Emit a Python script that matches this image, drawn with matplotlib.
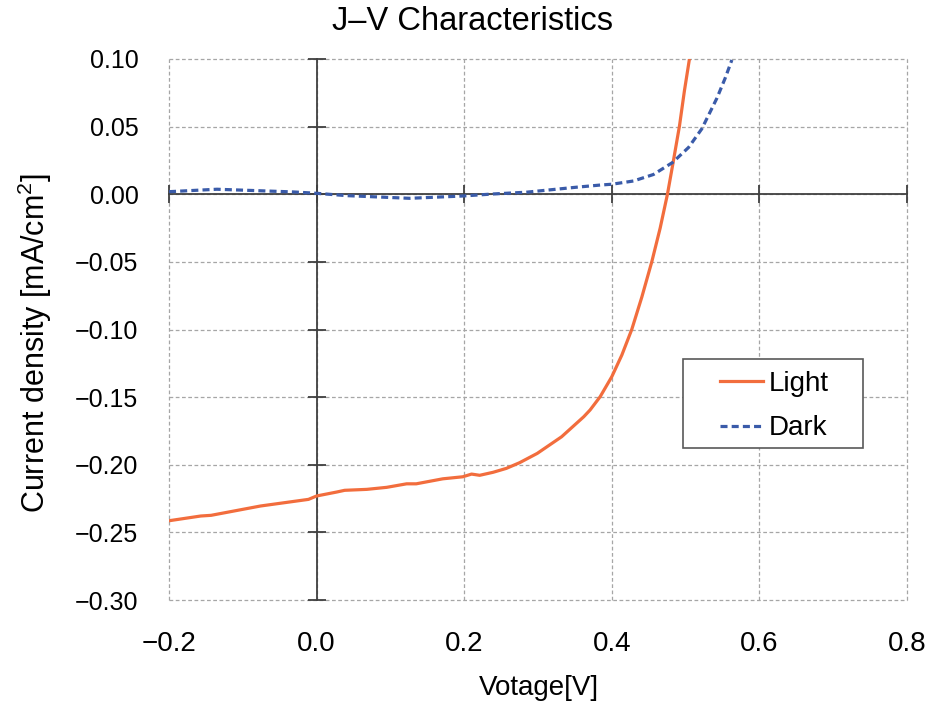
import matplotlib
matplotlib.use('Agg')
import matplotlib.pyplot as plt
from matplotlib.patches import Rectangle

plt.rcParams['font.family'] = ['Liberation Sans', 'DejaVu Sans']
plt.rcParams['mathtext.fontset'] = 'custom'
plt.rcParams['mathtext.rm'] = 'Liberation Sans'

# Light J-V curve (V, mA/cm2)
light_v = [-0.2, -0.157, -0.143, -0.076, -0.011, 0.0, 0.027, 0.038, 0.068, 0.095,
           0.122, 0.135, 0.171, 0.198, 0.21, 0.221, 0.239, 0.257, 0.275, 0.299,
           0.332, 0.362, 0.3706, 0.3842, 0.4, 0.4136, 0.4271, 0.4407, 0.4542, 0.4655,
           0.4754, 0.4827, 0.4917, 0.4984, 0.5052]
light_j = [-0.2414, -0.2379, -0.2374, -0.2305, -0.2256, -0.2231, -0.2202, -0.2189, -0.2182, -0.2167,
           -0.2141, -0.2141, -0.2104, -0.2089, -0.2069, -0.2078, -0.2056, -0.2027, -0.1985, -0.1916,
           -0.1793, -0.1645, -0.1595, -0.1497, -0.1349, -0.1189, -0.0999, -0.0760, -0.0499, -0.0251,
           0.0, 0.0223, 0.0505, 0.0765, 0.10]

# Dark J-V curve
dark_v = [-0.2, -0.135, -0.031, 0.0, 0.04, 0.126, 0.198, 0.239, 0.284, 0.352,
          0.3842, 0.4, 0.4293, 0.4564, 0.4824, 0.504, 0.522, 0.5424, 0.5536, 0.5627]
dark_j = [0.0019, 0.0037, 0.0017, 0.0007, -0.001, -0.003, -0.0013, 0.0002, 0.0015, 0.0052,
          0.0068, 0.0074, 0.0098, 0.0146, 0.0235, 0.0346, 0.0484, 0.071, 0.0858, 0.0993]

xticks = [-0.2, 0.0, 0.2, 0.4, 0.6, 0.8]
yticks = [0.10, 0.05, 0.00, -0.05, -0.10, -0.15, -0.20, -0.25, -0.30]

fig = plt.figure(figsize=(9.31, 7.01), dpi=100)
pos = [169 / 931, 1 - 600 / 701, 738 / 931, 541 / 701]

# background axes: grid + tick labels at the edges
ax = fig.add_axes(pos)
ax.set_xlim(-0.2, 0.8)
ax.set_ylim(-0.30, 0.10)
ax.set_xticks(xticks)
ax.set_yticks(yticks)
ax.set_xticklabels([('%.1f' % t).replace('-', '\u2212') for t in xticks])
ax.set_yticklabels([('%.2f' % t).replace('-', '\u2212') for t in yticks])
ax.tick_params(axis='x', length=0, pad=22, labelsize=20)
ax.tick_params(axis='y', length=0, pad=22, labelsize=18)
for s in ax.spines.values():
    s.set_visible(False)
ax.grid(True, color='#a6a6a6', linestyle=(0, (3, 2)), linewidth=0.9)
for gl in ax.get_xgridlines() + ax.get_ygridlines():
    gl.set_clip_on(False)

# foreground axes: axes crossing at zero + curves
ax2 = fig.add_axes(pos)
ax2.patch.set_alpha(0)
ax2.set_xlim(-0.2, 0.8)
ax2.set_ylim(-0.30, 0.10)
ax2.set_xticks(xticks)
ax2.set_yticks(yticks)
ax2.spines['top'].set_visible(False)
ax2.spines['right'].set_visible(False)
ax2.spines['left'].set_position(('data', 0))
ax2.spines['bottom'].set_position(('data', 0))
for k in ['left', 'bottom']:
    ax2.spines[k].set_color('#404040')
    ax2.spines[k].set_linewidth(1.3)
ax2.tick_params(direction='inout', length=13, width=1.3, color='#404040',
                labelleft=False, labelbottom=False)

ax2.plot(light_v, light_j, color='#f26d3d', linewidth=2.3, label='Light', zorder=3)
ax2.plot(dark_v, dark_j, color='#3a5ba9', linewidth=2.3, linestyle=(0, (2.2, 1.3)),
         label='Dark', zorder=3)

# legend box drawn separately (wider left padding than matplotlib allows)
ax2.add_patch(Rectangle((0.696, 0.2805), 0.2448, 0.1645, transform=ax2.transAxes,
                        facecolor='white', edgecolor='#595959', linewidth=1.2, zorder=4))
leg = ax2.legend(loc='upper left', bbox_to_anchor=(0.7466, 0.4235), fontsize=20,
                 frameon=False, handlelength=1.55, handletextpad=0.2, labelspacing=0.67,
                 borderpad=0, borderaxespad=0)
leg.set_zorder(5)

fig.text(473 / 931, 1 - 22 / 701, 'J–V Characteristics', ha='center', va='center', fontsize=23.5)
fig.text(539 / 931, 1 - 688 / 701, 'Votage[V]', ha='center', va='center', fontsize=20)
fig.text(35 / 931, 1 - 343 / 701, 'Current density [mA/cm$^2$]', ha='center', va='center',
         rotation=90, fontsize=22)

fig.savefig('out.png', dpi=100)
